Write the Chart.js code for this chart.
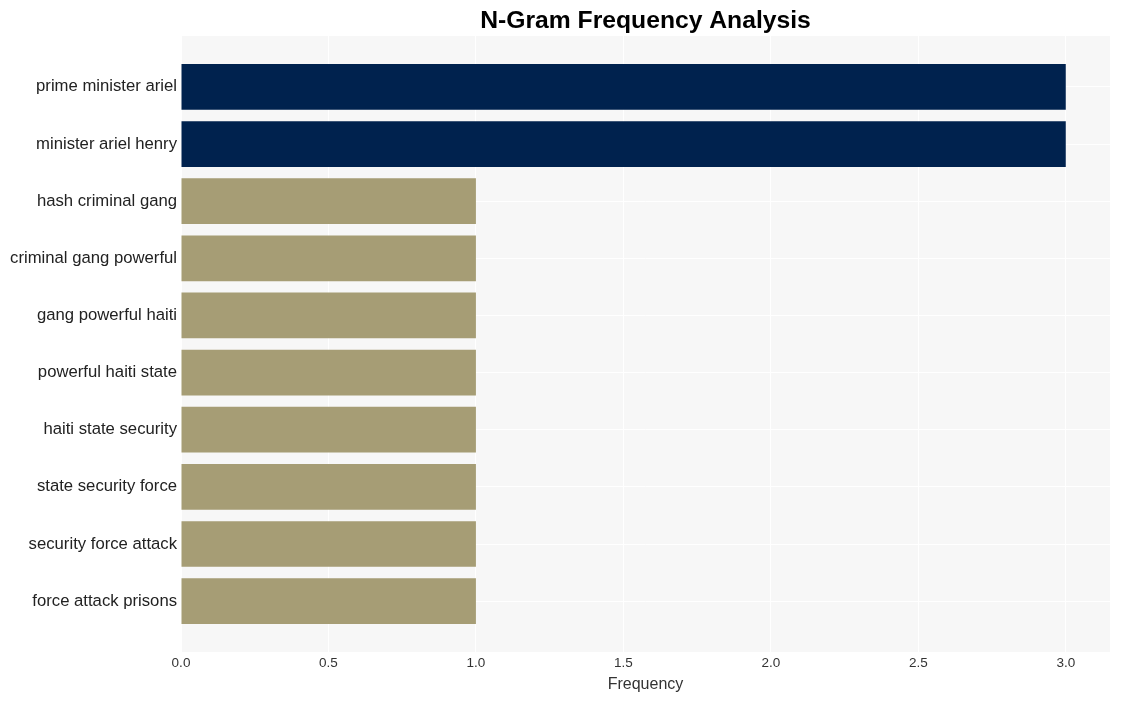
<!DOCTYPE html>
<html lang="en">
<head>
    <meta charset="UTF-8">
    <title>N-Gram Frequency Analysis</title>
    <script src="https://cdn.jsdelivr.net/npm/chart.js"></script>
    <style>
        body { margin: 0; background: #fff; }
    </style>
</head>
<body>
    <canvas id="ngramChart" width="1121" height="701"></canvas>

    <script>
        // n-grams, top to bottom
        const ngrams = [
            'prime minister ariel',
            'minister ariel henry',
            'hash criminal gang',
            'criminal gang powerful',
            'gang powerful haiti',
            'powerful haiti state',
            'haiti state security',
            'state security force',
            'security force attack',
            'force attack prisons'
        ];
        const frequency = [3, 3, 1, 1, 1, 1, 1, 1, 1, 1];
        const xTicks = [0, 0.5, 1, 1.5, 2, 2.5, 3];

        const points = frequency.map((v, i) => ({ x: v, y: i }));

        // light grey panel behind the plot
        const panelBg = {
            id: 'panelBg',
            beforeDraw(chart) {
                const a = chart.chartArea;
                const ctx = chart.ctx;
                ctx.save();
                ctx.fillStyle = '#f7f7f7';
                ctx.fillRect(a.left, a.top, a.right - a.left, a.bottom - a.top);
                ctx.restore();
            }
        };

        const ctx = document.getElementById('ngramChart').getContext('2d');
        const chart = new Chart(ctx, {
            type: 'bar',
            data: {
                datasets: [{
                    data: points,
                    backgroundColor: frequency.map(v => v >= 3 ? '#00224e' : '#a69d75'),
                    borderWidth: 0,
                    categoryPercentage: 1,
                    barPercentage: 0.8
                }]
            },
            options: {
                responsive: false,
                animation: false,
                indexAxis: 'y',
                layout: { padding: { left: 0, right: 11, top: 0, bottom: 0 } },
                scales: {
                    x: {
                        type: 'linear',
                        min: 0,
                        max: 3.15,
                        afterBuildTicks(scale) {
                            scale.ticks = xTicks.map(v => ({ value: v }));
                        },
                        afterFit(scale) { scale.height = 49; },
                        ticks: {
                            callback: v => v.toFixed(1),
                            color: '#333',
                            font: { family: 'Liberation Sans, Arial', size: 13.5 },
                            padding: 3,
                            maxRotation: 0
                        },
                        grid: { color: '#ffffff', lineWidth: 1, drawTicks: false },
                        border: { display: false },
                        title: {
                            display: true,
                            text: 'Frequency',
                            color: '#333',
                            font: { family: 'Liberation Sans, Arial', size: 16 },
                            padding: { top: 0, bottom: 7 }
                        }
                    },
                    y: {
                        type: 'linear',
                        reverse: true,
                        offset: false,
                        min: -0.89,
                        max: 9.89,
                        afterBuildTicks(scale) {
                            scale.ticks = ngrams.map((_, i) => ({ value: i }));
                        },
                        afterFit(scale) { scale.width = 181; },
                        ticks: {
                            callback: v => ngrams[v],
                            color: '#222',
                            font: { family: 'Liberation Sans, Arial', size: 16.7 },
                            padding: 4
                        },
                        grid: { color: '#ffffff', lineWidth: 1, drawTicks: false, offset: false },
                        border: { display: false }
                    }
                },
                plugins: {
                    legend: { display: false },
                    tooltip: { enabled: false },
                    title: {
                        display: true,
                        fullSize: false,
                        text: 'N-Gram Frequency Analysis',
                        color: '#000',
                        font: { family: 'Liberation Sans, Arial', size: 24.7, weight: 'bold' },
                        padding: { top: 6, bottom: 0.4 }
                    }
                }
            },
            plugins: [panelBg]
        });
    </script>
</body>
</html>
